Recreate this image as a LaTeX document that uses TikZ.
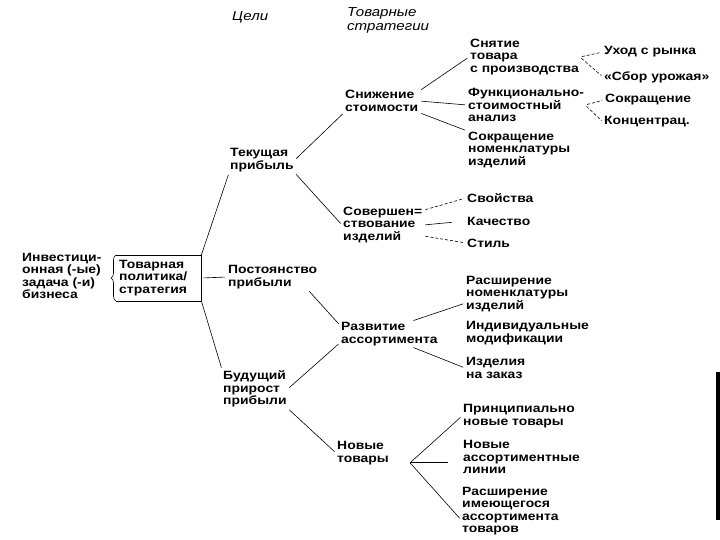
\documentclass[tikz,border=0pt]{standalone}
\usepackage{fontspec}
\setmainfont{Liberation Sans}[FakeStretch=1.16]
\usetikzlibrary{positioning, calc, decorations.pathreplacing}
\newcommand{\lblfont}{\fontsize{12}{12.5}\selectfont\bfseries}
\newcommand{\headfont}{\fontsize{13}{14}\selectfont\itshape}
\tikzset{
    item/.style={font=\lblfont, align=left, anchor=west, inner sep=1pt},
    head/.style={font=\headfont, align=left, anchor=west, inner sep=1pt},
    link/.style={line width=0.6pt, shorten <=2pt, shorten >=2pt},
    dlink/.style={link, dash pattern=on 3pt off 2pt},
}

\begin{document}
\begin{tikzpicture}[x=1pt, y=-1pt]
    \useasboundingbox (0,0) rectangle (720,540);

    % Headings
    \node[head] (goals) at (231,17) {Цели};
    \node[head] (strat) at (346,20) {Товарные\\стратегии};

    % Task and policy
    \node[item] (task) at (21,276) {Инвестици-\\онная (-ые)\\задача (-и)\\бизнеса};
    \node[item, text width=79pt, inner xsep=3pt, inner ysep=5pt] (policy) at (116,278) {Товарная\\политика/\\стратегия};

    % Goals
    \node[item] (curr) at (229,160) {Текущая\\прибыль};
    \node[item] (steady) at (227,277) {Постоянство\\прибыли};
    \node[item] (future) at (222,389) {Будущий\\прирост\\прибыли};

    % Strategies
    \node[item] (cost) at (344,101) {Снижение\\стоимости};
    \node[item] (improve) at (342,225) {Совершен=\\ствование\\изделий};
    \node[item] (range) at (340,334) {Развитие\\ассортимента};
    \node[item] (newprod) at (336,453) {Новые\\товары};

    % Measures
    \node[item] (withdraw) at (469,57) {Снятие\\товара\\с производства};
    \node[item] (fca) at (467,105) {Функционально-\\стоимостный\\анализ};
    \node[item] (cutline) at (467,150) {Сокращение\\номенклатуры\\изделий};
    \node[item] (exit) at (603,52) {Уход с рынка};
    \node[item] (harvest) at (603,77) {«Сбор урожая»};
    \node[item] (reduce) at (604,100) {Сокращение};
    \node[item] (focus) at (603,122) {Концентрац.};
    \node[item] (props) at (466,198) {Свойства};
    \node[item] (quality) at (466,221) {Качество};
    \node[item] (look) at (466,243) {Стиль};
    \node[item] (widen) at (465,294) {Расширение\\номенклатуры\\изделий};
    \node[item] (custom) at (465,333) {Индивидуальные\\модификации};
    \node[item] (order) at (465,368) {Изделия\\на заказ};
    \node[item] (novel) at (462,416) {Принципиально\\новые товары};
    \node[item] (lines) at (462,457) {Новые\\ассортиментные\\линии};
    \node[item] (extend) at (461,511) {Расширение\\имеющегося\\ассортимента\\товаров};

    % Box with brace
    \draw[line width=0.6pt] (policy.north west) -- (policy.north east) -- (policy.south east) -- (policy.south west);
    \draw[line width=0.6pt, decorate, decoration={brace, amplitude=5pt}] (policy.south west) -- (policy.north west);

    % Connectors
    \draw[link] (curr.south west) -- (policy.north east) -- (policy.south east) -- (future.north west);
    \draw[link] (policy.east) -- (steady.west);
    \draw[link] (curr.east) -- (cost.south west);
    \draw[link] (curr.south east) -- (improve.west);
    \draw[link] (steady.-20) -- (range.170);
    \draw[link] (future.east) -- (range.190);
    \draw[link] (future.south east) -- (newprod.west);
    \draw[link] (cost.15) -- (withdraw.west);
    \draw[link] (cost.east) -- (fca.west);
    \draw[link] (cost.south east) -- (cutline.north west);
    \draw[dlink] (withdraw.east) -- (exit.west);
    \draw[dlink] (withdraw.east) -- (harvest.west);
    \draw[dlink] (fca.east) -- (reduce.west);
    \draw[dlink] (fca.east) -- (focus.west);
    \draw[dlink] (improve.20) -- (props.west);
    \draw[link, shorten >=14pt] (improve.east) -- (quality.west);
    \draw[dlink] (improve.-15) -- (look.west);
    \draw[link] (range.30) -- (widen.190);
    \draw[link] (range.-30) -- (order.west);
    \coordinate (fork) at ($(newprod.south east)+(20,-3)$);
    \draw[link, shorten <=0pt] (fork) -- (novel.west);
    \draw[very thick, shorten >=14pt] (fork) -- (fork -| lines.west);
    \draw[link, shorten <=0pt] (fork) -- (extend.190);

    % Scan edge
    \fill (716,372) rectangle (720,520);
\end{tikzpicture}
\end{document}
